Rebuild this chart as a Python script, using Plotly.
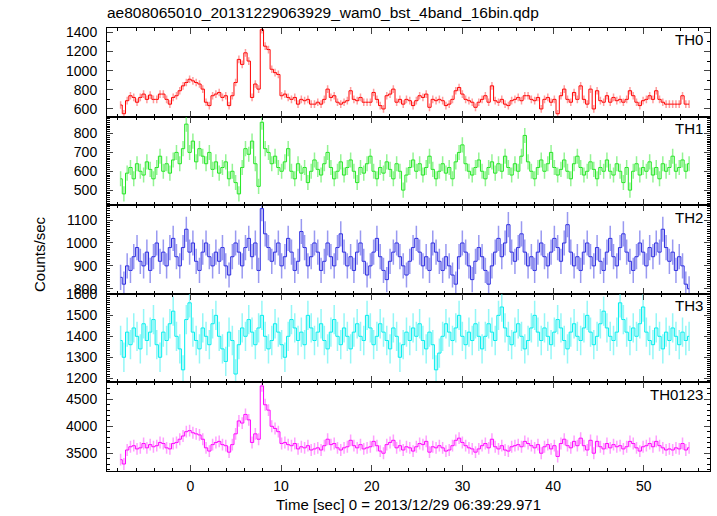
import numpy as np
import plotly.graph_objects as go
from plotly.subplots import make_subplots

# ---- data ----
T_START = -7.7
T_STEP = 0.3624
N_BINS = 174

TH0 = [641,550,686,738,720,670,720,755,700,745,
       700,700,755,755,700,650,720,738,790,841,
       876,910,893,876,860,807,670,635,738,755,
       772,720,738,635,738,876,1117,1065,1186,1100,
       720,860,807,1428,1255,1220,1014,979,960,738,
       755,720,700,720,650,700,686,700,650,650,
       670,650,700,807,720,738,670,650,670,686,
       790,700,686,720,670,670,670,772,700,635,
       600,738,755,807,
       670,700,650,700,686,635,686,738,720,755,
       617,700,686,700,686,635,650,700,790,824,
       755,700,686,670,617,670,700,738,670,841,
       686,670,700,650,635,686,700,720,686,738,
       738,700,686,720,600,700,720,670,700,550,
       738,807,700,670,772,700,841,700,650,807,
       600,790,686,670,738,670,720,686,700,670,
       700,790,738,670,635,686,700,738,700,790,
       700,670,650,650,650,650,650,738,650,650]

TH1 = [560,480,590,620,560,640,600,580,650,610,
       560,620,680,600,640,590,660,700,640,720,
       850,700,760,650,720,680,640,700,610,650,
       590,620,650,560,600,540,480,620,720,690,
       760,640,520,860,720,700,640,680,620,600,
       650,720,600,560,640,590,620,540,600,660,
       610,580,640,700,620,560,600,650,580,620,
       660,600,540,620,590,640,680,600,560,620,
       590,650,610,560,640,600,500,580,620,660,
       600,640,580,620,680,610,560,600,640,590,
       620,560,650,700,740,640,600,580,620,660,
       600,560,620,650,590,640,600,680,620,580,
       640,600,680,790,650,600,560,620,660,600,
       640,700,620,580,610,660,600,560,640,680,
       620,580,600,650,610,560,620,600,660,600,
       580,640,600,540,620,500,600,640,580,620,
       600,650,580,620,560,640,600,620,680,600,
       620,660,600,640]

TH2 = [850,820,900,880,940,980,920,900,960,880,
       940,1000,920,960,900,980,1020,940,900,980,
       1060,960,1000,920,880,960,1000,940,900,960,
       920,980,900,860,940,1000,960,900,980,1020,
       940,1000,880,1150,1040,980,920,960,1000,900,
       940,1020,960,880,920,1050,980,900,940,1000,
       960,880,920,1000,940,900,980,1040,960,900,
       940,880,960,1000,920,860,900,960,1020,940,
       880,840,920,960,1000,940,900,860,920,980,
       1020,960,900,940,880,1000,960,920,880,940,
       900,860,820,940,1000,960,900,840,920,980,
       940,880,820,900,960,1020,940,1000,1080,960,
       920,980,1040,960,900,940,880,960,1000,940,
       900,960,1020,980,920,1000,1080,960,900,940,
       880,960,1000,940,900,980,920,880,960,1020,
       940,900,980,1040,960,920,880,940,1000,960,
       900,980,940,1000,960,1060,980,920,960,880,
       940,900,820,800]

TH3 = [1380,1300,1420,1360,1440,1400,1340,1460,1380,1420,
       1480,1360,1300,1420,1380,1460,1520,1400,1340,1240,
       1480,1560,1420,1380,1340,1440,1400,1360,1460,1500,
       1400,1340,1280,1420,1380,1220,1360,1440,1400,1480,
       1420,1360,1440,1500,1400,1340,1380,1460,1420,1360,
       1300,1400,1480,1440,1380,1420,1360,1500,1440,1380,
       1420,1460,1380,1340,1420,1480,1400,1360,1440,1400,
       1340,1420,1460,1400,1380,1500,1440,1360,1400,1460,
       1420,1380,1340,1440,1400,1300,1360,1420,1380,1440,
       1400,1460,1380,1340,1420,1360,1240,1320,1400,1460,
       1420,1380,1440,1500,1400,1360,1420,1380,1460,1400,
       1340,1400,1460,1420,1380,1500,1540,1440,1400,1360,
       1420,1460,1400,1340,1380,1440,1500,1420,1380,1440,
       1400,1360,1420,1480,1440,1380,1340,1420,1460,1400,
       1380,1440,1500,1420,1360,1400,1460,1520,1440,1400,
       1380,1420,1560,1480,1420,1380,1440,1400,1460,1540,
       1420,1380,1360,1440,1400,1340,1420,1380,1440,1400,
       1360,1420,1380,1400]

TH0123 = [3380,3300,3560,3620,3640,3580,3600,3680,3600,3660,
          3620,3640,3700,3680,3600,3580,3680,3700,3760,3820,
          3900,3920,3880,3860,3840,3760,3600,3540,3660,3700,
          3720,3660,3640,3520,3660,3860,4100,4060,4220,4120,
          3700,3860,3760,4750,4400,4300,4000,3960,3900,3680,
          3700,3660,3640,3680,3580,3620,3600,3640,3560,3580,
          3600,3560,3640,3760,3660,3680,3600,3560,3600,3620,
          3740,3640,3600,3660,3580,3600,3620,3720,3640,3540,
          3500,3660,3700,3740,
          3600,3640,3560,3620,3600,3540,3620,3680,3660,3720,
          3520,3620,3600,3640,3600,3540,3560,3640,3740,3780,
          3700,3640,3600,3580,3520,3580,3640,3680,3600,3760,
          3620,3580,3640,3560,3540,3620,3640,3660,3620,3720,
          3680,3640,3600,3660,3500,3620,3660,3580,3640,3440,
          3680,3760,3640,3600,3720,3640,3780,3640,3560,3740,
          3500,3720,3620,3580,3680,3600,3660,3620,3640,3580,
          3620,3720,3680,3600,3540,3620,3640,3680,3620,3720,
          3640,3600,3560,3580,3560,3600,3580,3680,3560,3600]

SERIES = [TH0, TH1, TH2, TH3, TH0123]
NAMES = ["TH0", "TH1", "TH2", "TH3", "TH0123"]
ERRORS = [40, 40, 55, 70, 110]
Y_RANGES = [[520, 1445], [420, 890], [778, 1165], [1180, 1603], [3170, 4815]]
Y_DTICK = [200, 100, 100, 100, 500]
Y_MINOR = [100, 10, 10, 10, 100]
LINE_COLORS = ["#ff0000", "#22e622", "#2a2ae0", "#00eeee", "#ff00ff"]
ERR_COLORS = ["rgba(255,90,90,0.6)", "rgba(60,235,60,0.55)", "rgba(70,70,230,0.55)",
              "rgba(60,240,240,0.55)", "rgba(255,80,255,0.55)"]

TITLE = "ae808065010_20131229063929_wam0_bst_4band_16bin.qdp"
X_TITLE = "Time [sec] 0 = 2013/12/29 06:39:29.971"
Y_TITLE = "Counts/sec"
X_RANGE = [-9.2, 57.3]

times = T_START + T_STEP * np.arange(N_BINS)

FONT = "Liberation Sans, Arial, sans-serif"

fig = make_subplots(rows=5, cols=1, shared_xaxes=True, vertical_spacing=0)

for i, (vals, name) in enumerate(zip(SERIES, NAMES)):
    fig.add_trace(go.Scatter(
        x=times, y=vals, mode="lines",
        line=dict(color=LINE_COLORS[i], width=1, shape="hvh"),
        error_y=dict(type="constant", value=ERRORS[i], color=ERR_COLORS[i],
                     thickness=1.5, width=0),
        showlegend=False, name=name,
    ), row=i + 1, col=1)
    fig.update_yaxes(range=Y_RANGES[i], dtick=Y_DTICK[i], tick0=0,
                     ticks="inside", ticklen=6, showline=True, linecolor="black",
                     linewidth=1, mirror="allticks", showgrid=False, zeroline=False,
                     ticklabelstandoff=6,
                     tickfont=dict(size=14, color="black", family=FONT),
                     minor=dict(ticks="inside", ticklen=3, dtick=Y_MINOR[i], tick0=0,
                                showgrid=False, tickcolor="black"),
                     row=i + 1, col=1)
    fig.update_xaxes(range=X_RANGE, dtick=10, tick0=0,
                     ticks="inside", ticklen=6, showline=True, linecolor="black",
                     linewidth=1, mirror="allticks", showgrid=False, zeroline=False,
                     ticklabelstandoff=2,
                     tickfont=dict(size=14, color="black", family=FONT),
                     minor=dict(ticks="inside", ticklen=3, dtick=2, tick0=0,
                                showgrid=False, tickcolor="black"),
                     row=i + 1, col=1)
    fig.add_annotation(text=name, xref=f"x{'' if i == 0 else i + 1} domain",
                       yref=f"y{'' if i == 0 else i + 1} domain",
                       x=0.992, y=0.985, xanchor="right", yanchor="top",
                       showarrow=False, font=dict(size=15, color="black", family=FONT))

fig.update_xaxes(title=dict(text=X_TITLE, font=dict(size=15, color="black", family=FONT),
                            standoff=6), row=5, col=1)

fig.add_annotation(text=Y_TITLE, xref="paper", yref="paper", x=-0.111, y=0.49,
                   textangle=-90, showarrow=False, xanchor="center", yanchor="middle",
                   font=dict(size=15, color="black", family=FONT))

fig.update_layout(
    width=717, height=516,
    margin=dict(l=107, r=6, t=28, b=43),
    paper_bgcolor="white", plot_bgcolor="white",
    title=dict(text=TITLE, x=107 / 717, xanchor="left", y=1 - 13 / 516, yanchor="middle",
               font=dict(size=15.5, color="black", family=FONT)),
    font=dict(family=FONT, color="black"),
)

fig.write_html("out.html", config={"displayModeBar": False},
               post_script="document.body.style.margin='0';document.body.style.padding='0';")
